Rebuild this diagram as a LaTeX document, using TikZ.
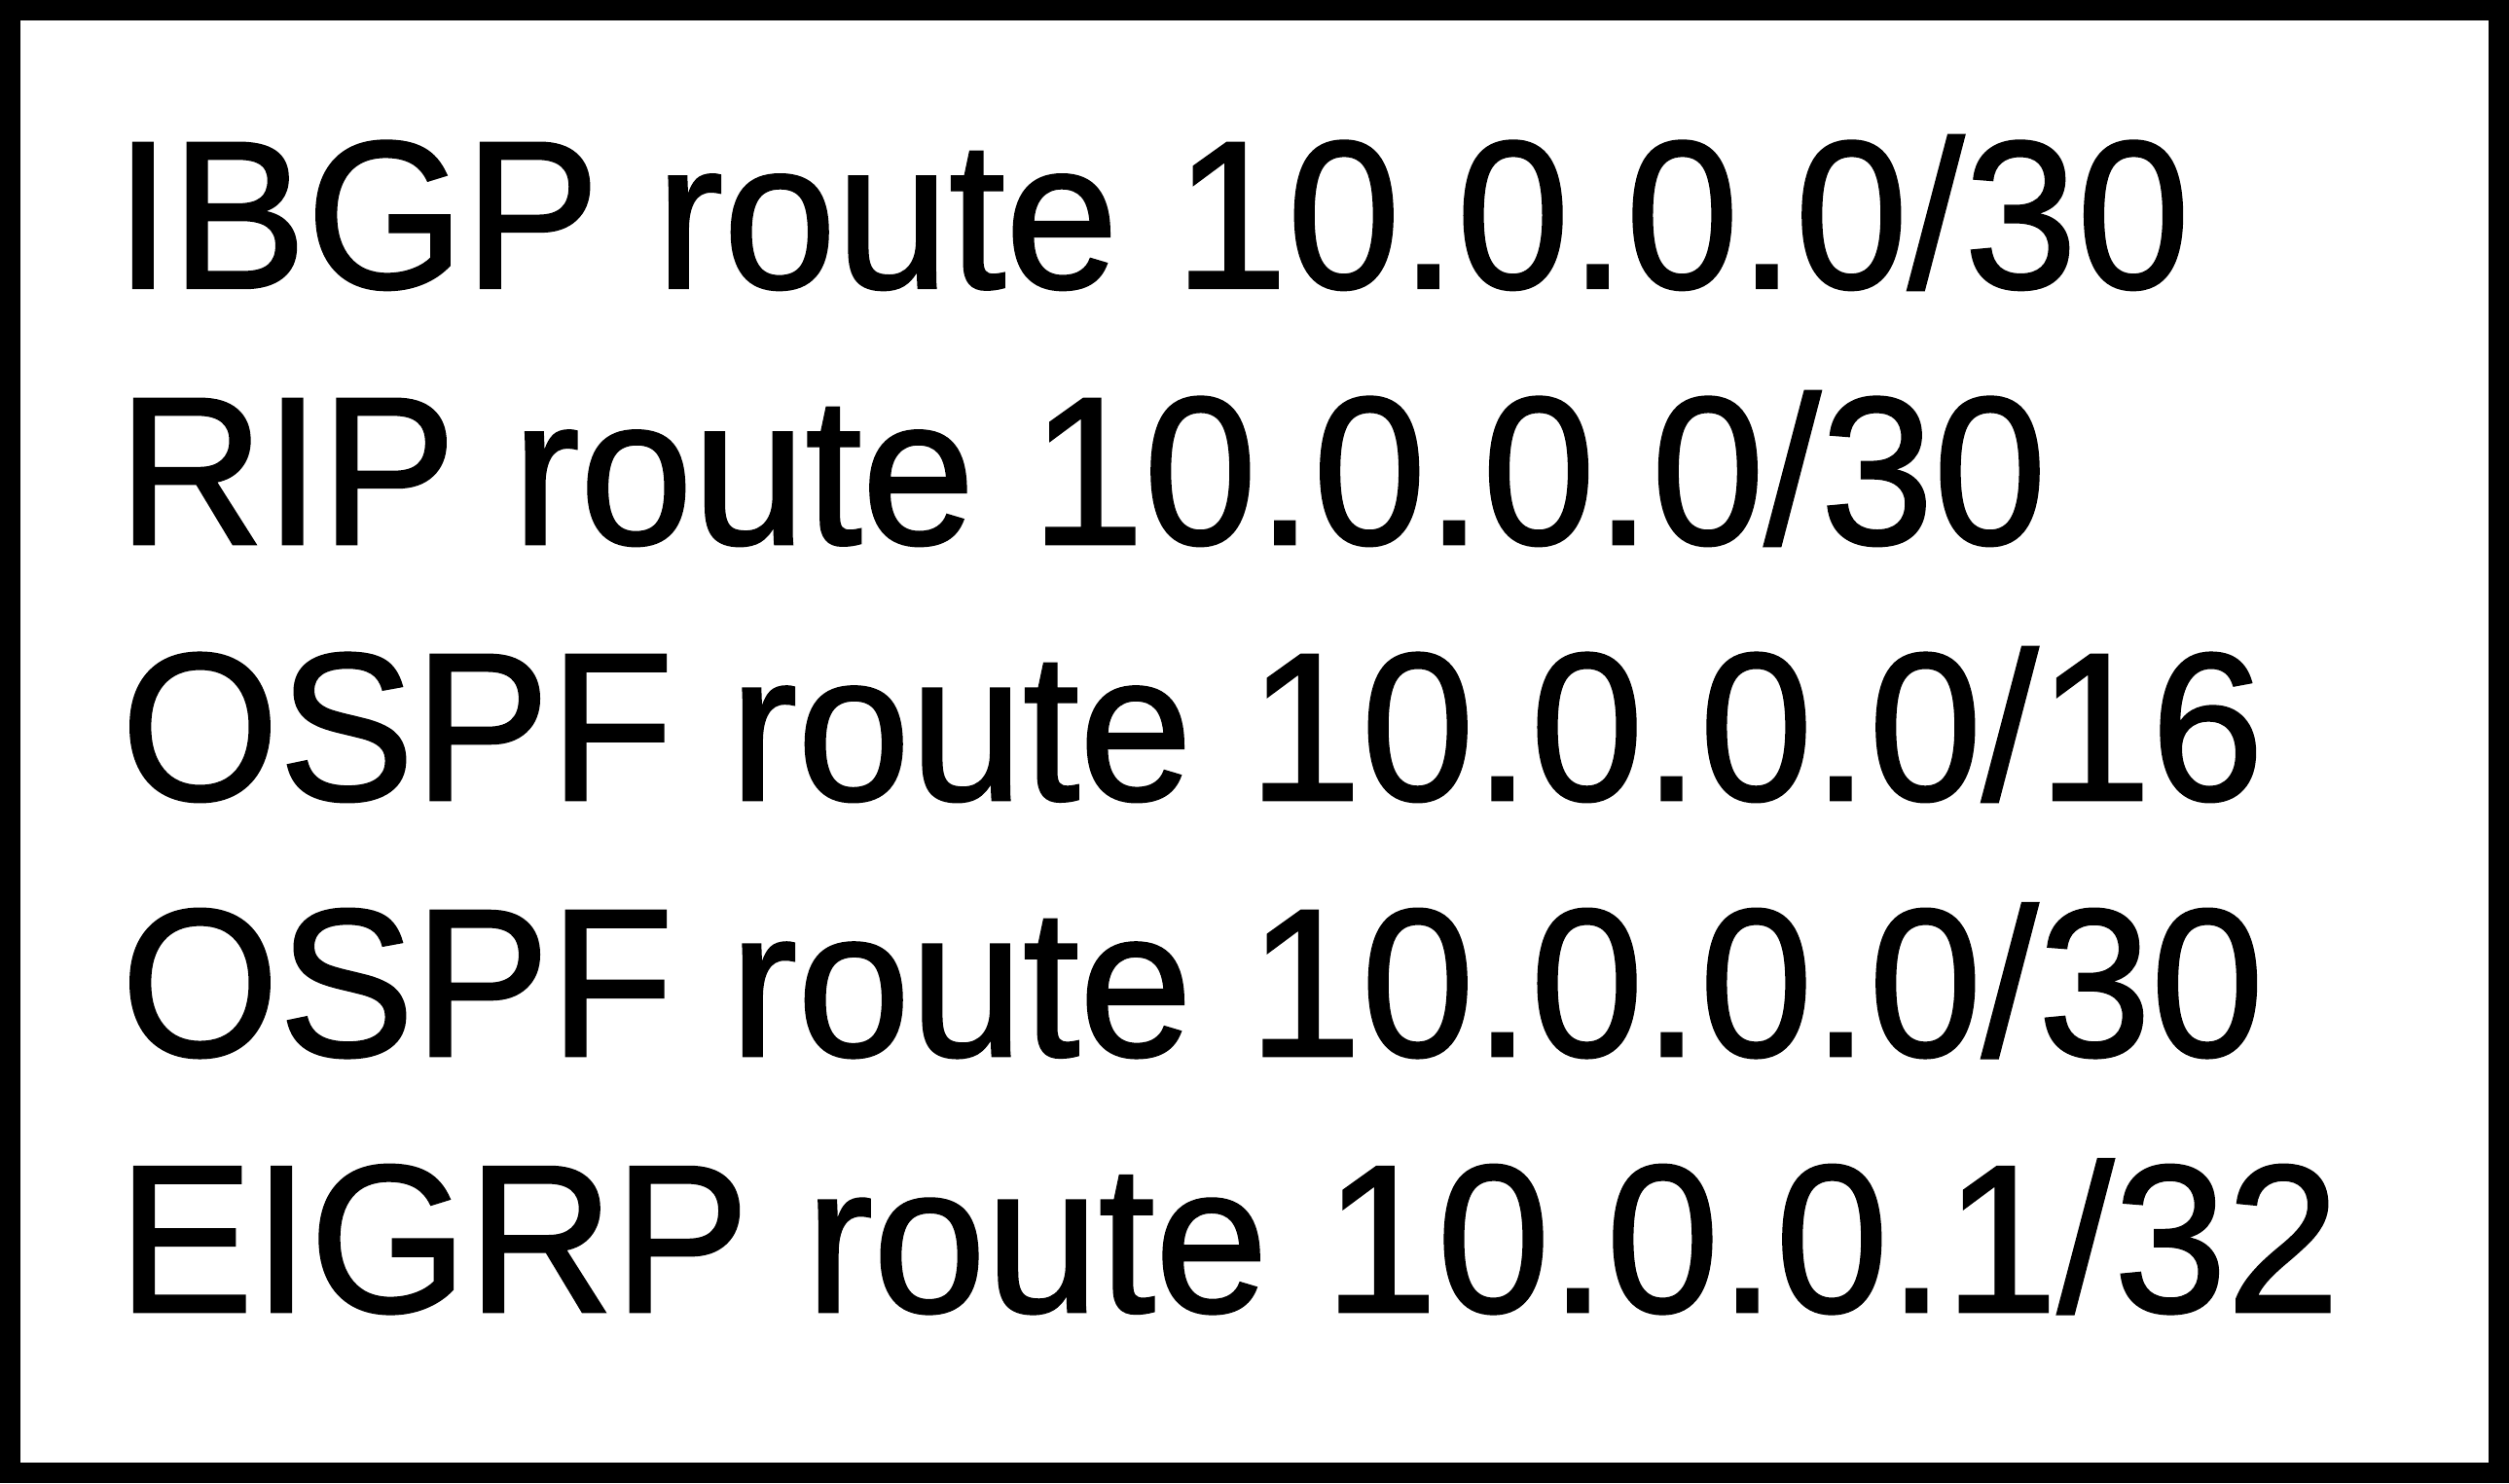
\documentclass[tikz,border=0pt]{standalone}
\usepackage{fontspec}
\setmainfont{Liberation Sans}[FakeStretch=0.962,FakeBold=1.2]
\usetikzlibrary{positioning}
\tikzset{routeline/.style={anchor=base west, inner sep=0pt, font=\fontsize{37.5pt}{45pt}\selectfont}}

\begin{document}
\begin{tikzpicture}
    \useasboundingbox (0,0) rectangle (15.68,9.27);
    \draw[line width=0.13cm] (0.065,0.065) rectangle (15.615,9.205);
    \node[routeline] (ibgp) at (0.71,7.47) {IBGP route 10.0.0.0/30};
    \node[routeline] (rip) at (0.73,5.87) {RIP route 10.0.0.0/30};
    \node[routeline] (ospfa) at (0.75,4.27) {OSPF route 10.0.0.0/16};
    \node[routeline] (ospfb) at (0.75,2.67) {OSPF route 10.0.0.0/30};
    \node[routeline] (eigrp) at (0.73,1.07) {EIGRP route 10.0.0.1/32};
\end{tikzpicture}
\end{document}
